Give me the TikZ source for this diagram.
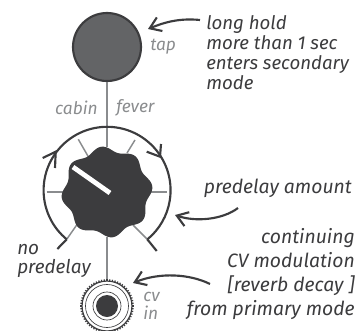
\documentclass[tikz,border=0pt]{standalone}
\usepackage{fontspec}
\setmainfont{Fira Sans}
\usetikzlibrary{arrows.meta}
\definecolor{inkdark}{HTML}{3C3C3E}
\definecolor{inkgray}{HTML}{8A8C8E}
\definecolor{tapfill}{HTML}{636466}
\tikzset{
    note/.style ={
        inner sep=0pt,
        text=inkdark,
        font=\itshape\fontsize{14}{15}\selectfont
    },
    bignote/.style ={
        note,
        font=\itshape\fontsize{14.5}{18}\selectfont
    },
    graynote/.style ={
        inner sep=0pt,
        text=inkgray,
        font=\itshape\fontsize{13}{13.5}\selectfont
    },
    tickline/.style ={
        draw=inkgray,
        line width=1.1pt
    },
    ringline/.style ={
        draw=inkdark,
        line width=1.6pt
    },
    pointer/.style ={
        draw=inkdark,
        line width=1.6pt,
        -{Straight Barb[length=8pt,width=11pt,line width=1.6pt]}
    }
}

\begin{document}
\begin{tikzpicture}[x=0.75pt,y=0.75pt]
        \clip (0,0) rectangle (357,330);
        % knob and jack outlines first, the fill goes over the lines
        \node[circle,minimum size=67.5pt,inner sep=0pt] (KNOB) at(107,138) {};
        \node[circle,minimum size=39.5pt,inner sep=0pt] (JACK) at(107,24) {};
        \node[circle,draw=inkdark,fill=tapfill,line width=1.6pt,minimum size=51pt,inner sep=0pt] (TAP) at(107,283) {};
        \draw[tickline] (TAP)--(KNOB);
        \draw[tickline] (KNOB)--(JACK);
        % ticks
        \coordinate (STOPL) at(66.7,90.7);
        \coordinate (STOPR) at(147.3,90.7);
        \draw[tickline] (78.3,190.7)--(88.3,173.3);
        \draw[tickline] (135,190)--(127,177);
        \draw[tickline] (46.7,138)--(65,138);
        \draw[tickline] (149,138)--(166.7,138);
        \draw[tickline] (STOPL)--(76.7,105);
        \draw[tickline] (STOPR)--(133,105);
        % range ring
        \draw[ringline] (STOPL) arc[start angle=230.5,end angle=-50.5,radius=63.5];
        \draw[ringline] (STOPL)--(57.3,81);
        \draw[ringline] (STOPR)--(156.7,79);
        \draw[ringline] (42.7,172)--(55.7,178.3)--(55,162);
        \draw[ringline] (146.7,178.3)--(160,173.3)--(161,186);
        % knob
        \fill[inkdark] plot[domain=0:360,samples=240] ({107+43*cos(\x)+2.6*cos(8*(\x-7))*cos(\x)},{138+43*sin(\x)+2.6*cos(8*(\x-7))*sin(\x)}) -- cycle;
        \draw[white,line width=3.6pt] (73,163)--(110,137);
        % jack
        \foreach \a in {0,6,...,354}
            \draw[inkdark,line width=0.9pt] (JACK.center)++(\a:25)--++(\a:1.8);
        \draw[inkdark,line width=0.9pt] (JACK.center) circle[radius=25];
        \draw[inkdark,line width=0.5pt] (JACK.center) circle[radius=21.5];
        \draw[inkdark,line width=0.5pt] (JACK.center) circle[radius=14];
        \fill[inkdark] (JACK.center) circle[radius=11];
        % labels
        \node[graynote,anchor=west] (TAPLABEL) at(150,283) {tap};
        \node[graynote,anchor=east] (CABIN) at(98,222) {cabin};
        \node[graynote,anchor=west] (FEVER) at(116,222) {fever};
        \node[note,anchor=north west,align=left] (HOLD) at(206,315) {long hold\\more than 1 sec\\enters secondary\\mode};
        \node[bignote,anchor=east] (AMOUNT) at(352,142) {predelay amount};
        \node[bignote,anchor=north east,align=right] (CONT) at(355,102) {continuing\\CV modulation\\{[}reverb decay {]}\\from primary mode};
        \node[bignote,anchor=north west,align=left,font=\itshape\fontsize{14.2}{14}\selectfont] (NOPRE) at(17,86) {no\\predelay};
        \node[graynote,anchor=north west,align=left] (CVIN) at(143,38) {cv\\in};
        % pointers
        \coordinate (HOLDEND) at(200,310);
        \coordinate (HOLDTIP) at(148,301);
        \coordinate (AMOUNTEND) at(238,122);
        \coordinate (AMOUNTTIP) at(175,115);
        \coordinate (CONTEND) at(210,46);
        \coordinate (CONTTIP) at(133,47);
        \draw[pointer] (HOLDEND) .. controls (180,312) and (165,308) .. (HOLDTIP);
        \draw[pointer] (AMOUNTEND) .. controls (222,110) and (195,108) .. (AMOUNTTIP);
        \draw[pointer] (CONTEND) .. controls (190,56) and (160,58) .. (CONTTIP);
    \end{tikzpicture}
\end{document}
